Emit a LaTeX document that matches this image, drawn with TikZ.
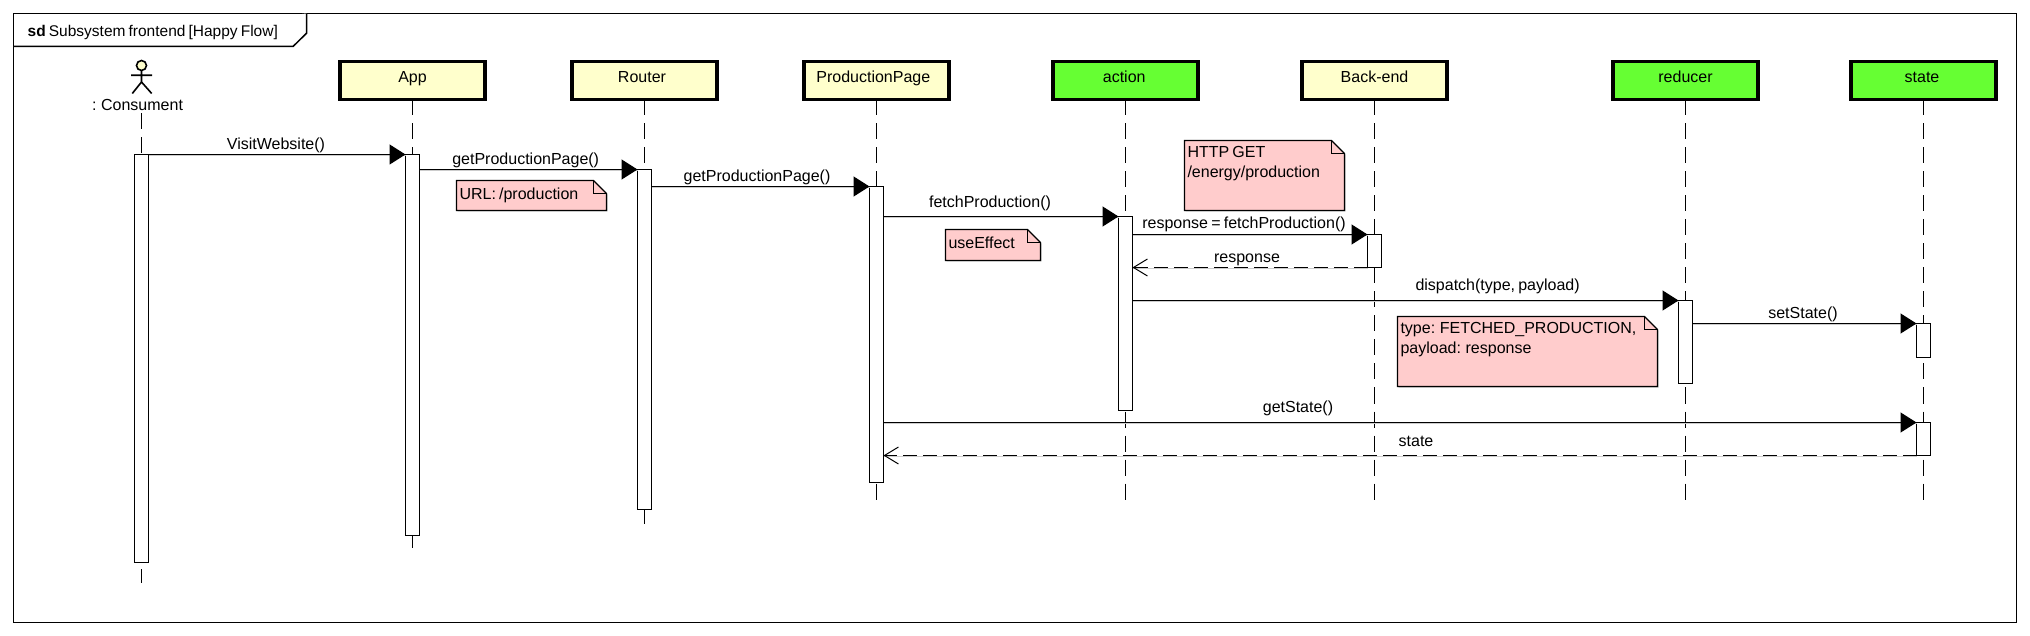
\documentclass[tikz,border=0pt]{standalone}
\usepackage{fontspec}
\setmainfont[WordSpace=0.72]{Liberation Sans}
\usetikzlibrary{arrows.meta,calc}
\definecolor{boxyellow}{HTML}{FFFFCC}
\definecolor{boxgreen}{HTML}{66FF33}
\definecolor{notepink}{HTML}{FFCCCC}
\tikzset{
  base font/.style={font=\fontsize{8}{10}\selectfont},
  lifebox/.style={draw=black,line width=1.65pt,rectangle,minimum width=72.5pt,minimum height=19pt,inner sep=0pt,outer sep=0pt,text height=6pt,text depth=3.5pt,base font},
  lifeline/.style={draw=black,line width=0.6pt,dash pattern=on 8pt off 4pt},
  activation/.style={draw=black,fill=white,line width=0.6pt,rectangle,inner sep=0pt,outer sep=0pt,minimum width=7pt},
  msg/.style={draw=black,line width=0.65pt,-{Triangle[length=8pt,width=10pt]},
    preaction={draw=black!20,line width=0.5pt,-,transform canvas={yshift=-0.6pt}}},
  ret/.style={draw=black,line width=0.65pt,dash pattern=on 7pt off 3pt,-{Straight Barb[length=7pt,width=8.5pt,line width=0.5pt]},
    preaction={draw=black!20,line width=0.5pt,-,transform canvas={yshift=-0.6pt}}},
  lbl/.style={base font,inner sep=0pt,outer sep=0pt,anchor=base},
  notetxt/.style={base font,inner sep=0pt,outer sep=0pt,anchor=base west,align=left},
  notefill/.style={draw=black,fill=notepink,line width=0.55pt},
  frameline/.style={draw=black,line width=0.75pt},
  actorline/.style={draw=black,line width=0.8pt},
}
\newcommand{\actbar}[4]{\node[activation,minimum height={(#4-#3)*0.5pt}] (#1) at (#2,{(#3+#4)/2}) {};}
\newcommand{\notepaper}[6]{%
  \fill[black!25] (#2+1,#3+1) -- (#4+1,#3+14) -- (#4+1,#5+1) -- (#2+1,#5+1) -- cycle;
  \path[notefill] (#2,#3) -- (#4-13,#3) -- (#4,#3+13) -- (#4,#5) -- (#2,#5) -- cycle;
  \draw[notefill,fill=none] (#4-13,#3) -- (#4-13,#3+13) -- (#4,#3+13);
  \node[notetxt] (#1) at (#2+3,#6) }
\begin{document}
\begin{tikzpicture}[x=0.5pt,y=-0.5pt]
\useasboundingbox[fill=white] (0,0) rectangle (2030,636);
% frame
\draw[frameline] (13.5,13.5) rectangle (2016.5,622.5);
\draw[frameline,fill=white] (13.5,46.5) -- (293,46.5) -- (306.5,33.3) -- (306.5,13.5);
\node[lbl,anchor=base west,font=\fontsize{7.75}{10}\selectfont] (frametitle) at (27.7,36.7) {\textbf{sd} Subsystem frontend [Happy Flow]};
% actor
\draw[actorline,fill=boxyellow] (141.5,65.5) circle[radius=5];
\draw[actorline] (141.5,70.5) -- (141.5,82) (131,75.3) -- (152,75.3) (132.3,93.5) -- (141.5,82) -- (151.7,93.5);
\node[lbl,inner ysep=1pt] (consument) at (141.5,111) {: Consument\kern4pt};
% lifeline heads
\node[lifebox,fill=boxyellow] (app) at (412.5,80.5) {App};
\node[lifebox,fill=boxyellow] (router) at (644.5,80.5) {Router\kern2.5pt};
\node[lifebox,fill=boxyellow] (page) at (876.5,80.5) {ProductionPage\kern3.2pt};
\node[lifebox,fill=boxgreen] (action) at (1125.5,80.5) {action\kern1.3pt};
\node[lifebox,fill=boxyellow] (backend) at (1374.5,80.5) {Back-end};
\node[lifebox,fill=boxgreen] (reducer) at (1685.5,80.5) {reducer};
\node[lifebox,fill=boxgreen] (state) at (1923.5,80.5) {state\kern1.5pt};
% lifeline ends
\coordinate (endcons) at (141.5,583);
\coordinate (endapp) at (412.5,548.5);
\coordinate (endrouter) at (644.5,524.5);
\coordinate (endpage) at (876.5,500.5);
\coordinate (endaction) at (1125.5,500.5);
\coordinate (endbackend) at (1374.5,500.5);
\coordinate (endreducer) at (1685.5,500.5);
\coordinate (endstate) at (1923.5,500.5);
\draw[lifeline] (consument.south) -- (endcons);
\draw[lifeline] (app.south) -- (endapp);
\draw[lifeline] (router.south) -- (endrouter);
\draw[lifeline] (page.south) -- (endpage);
\draw[lifeline] (action.south) -- (endaction);
\draw[lifeline] (backend.south) -- (endbackend);
\draw[lifeline] (reducer.south) -- (endreducer);
\draw[lifeline] (state.south) -- (endstate);
% activations
\actbar{acons}{141.5}{154.5}{562.5}
\actbar{aapp}{412.5}{154.5}{535.5}
\actbar{arouter}{644.5}{169.5}{509.5}
\actbar{apage}{876.5}{186.5}{482.5}
\actbar{aaction}{1125.5}{216.5}{410.5}
\actbar{abackend}{1374.5}{234.5}{267.5}
\actbar{areducer}{1685.5}{300.5}{383.5}
\actbar{astate}{1923.5}{323.5}{357.5}
\actbar{astatetwo}{1923.5}{422.5}{455.5}
% notes
\notepaper{nurl}{456.5}{180.5}{606.5}{210.5}{200}{URL: /production};
\notepaper{neffect}{945.5}{229.5}{1040.5}{260.5}{249}{useEffect};
\notepaper{nhttp}{1184.5}{140.5}{1344.5}{210.5}{178}{HTTP GET\\/energy/production};
\notepaper{ntype}{1397.5}{316.5}{1657.5}{386.5}{354}{type: FETCHED\_PRODUCTION,\\payload: response};
% messages
\draw[msg] (acons.east |- aapp.north) -- (aapp.north west);
\draw[msg] (aapp.east |- arouter.north) -- (arouter.north west);
\draw[msg] (arouter.east |- apage.north) -- (apage.north west);
\draw[msg] (apage.east |- aaction.north) -- (aaction.north west);
\draw[msg] (aaction.east |- abackend.north) -- (abackend.north west);
\draw[ret] (abackend.south west) -- (aaction.east |- abackend.south);
\draw[msg] (aaction.east |- areducer.north) -- (areducer.north west);
\draw[msg] (areducer.east |- astate.north) -- (astate.north west);
\draw[msg] (apage.east |- astatetwo.north) -- (astatetwo.north west);
\draw[ret] (astatetwo.south west) -- (apage.east |- astatetwo.south);
% message labels
\node[lbl] (l1) at (276,150) {VisitWebsite()};
\node[lbl] (l2) at (525.7,165) {getProductionPage()};
\node[lbl] (l3) at (757,181.7) {getProductionPage()};
\node[lbl] (l4) at (990,207.7) {fetchProduction()};
\node[lbl] (l5) at (1244,229) {response = fetchProduction()};
\node[lbl] (l6) at (1247,263) {response};
\node[lbl] (l7) at (1497.6,290.7) {dispatch(type, payload)};
\node[lbl] (l8) at (1803,318.7) {setState()};
\node[lbl] (l9) at (1298,412.7) {getState()};
\node[lbl] (l10) at (1416,446.7) {state};
\end{tikzpicture}
\end{document}
